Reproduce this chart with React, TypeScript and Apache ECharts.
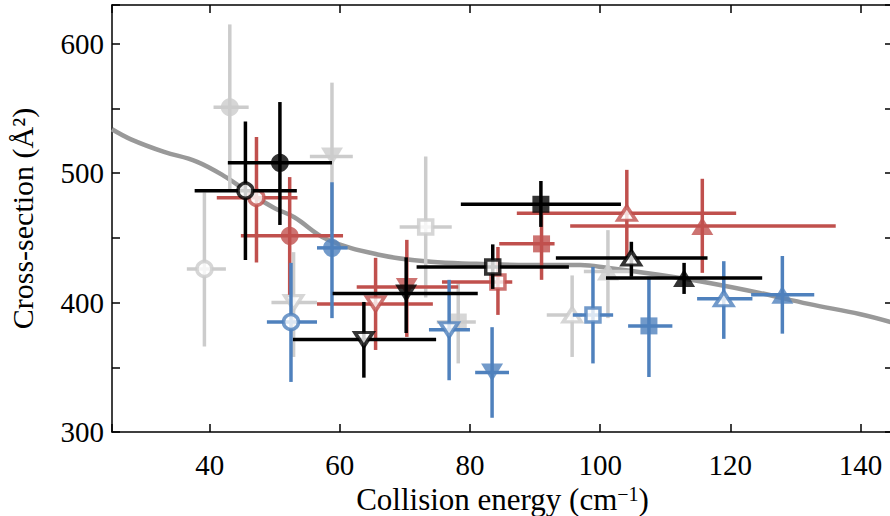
import React, { useEffect, useRef } from 'react';
import * as echarts from 'echarts';

// Marker order in every group:
// filled circle, open circle, filled ▼, open ▼, open ■, filled ■, open ▲, filled ▲
const markerShapes = ['circle', 'circle', 'down', 'down', 'rect', 'rect', 'up', 'up'];
const markerFilled = [true, false, true, false, false, true, false, true];

// [x, y, xLow, xHigh, yLow, yHigh]
const grayPoints = [
  [43.1, 551, 40.6, 46.0, 487, 615],
  [39.2, 426, 36.5, 42.5, 366, 485],
  [58.8, 513, 55.4, 62.0, 455, 570],
  [52.9, 400, 49.5, 56.5, 358, 439],
  [73.2, 458.5, 69.2, 77.2, 404, 513],
  [78.2, 385, 74.9, 80.9, 353, 415],
  [95.7, 390.5, 91.8, 97.2, 358, 421],
  [101.2, 424, 97.5, 105.0, 388, 456],
];

const redPoints = [
  [52.3, 451.6, 44.8, 60.5, 406, 497],
  [47.2, 481, 41.1, 53.5, 431, 528],
  [70.3, 412, 62.6, 78.2, 373.5, 448.5],
  [65.5, 399, 56.5, 74.3, 363.4, 434.6],
  [84.3, 416, 75.7, 86.5, 390.5, 443],
  [91.0, 445.4, 84.5, 93.0, 417.6, 469],
  [104.1, 469, 87.2, 120.9, 433, 502.6],
  [115.7, 459.3, 95.4, 136.2, 423, 495.7],
];

const bluePoints = [
  [58.8, 442.3, 56.5, 61.2, 388, 493],
  [52.5, 385, 48.8, 56.5, 338.7, 430.7],
  [83.4, 346, 80.8, 86.0, 311, 381],
  [76.8, 379, 73.7, 80.0, 340, 417.6],
  [98.9, 390.5, 95.8, 102.0, 353, 427.6],
  [107.5, 382, 104.3, 111.1, 342.5, 420],
  [119.0, 403, 114.9, 123.4, 372, 432],
  [128.0, 406, 123.2, 132.9, 376, 436],
];

const blackPoints = [
  [50.8, 508, 42.8, 58.8, 460, 555],
  [45.5, 486.5, 37.7, 53.4, 433, 540],
  [70.2, 407, 58.9, 81.2, 376.5, 435],
  [63.7, 371.5, 52.8, 74.8, 342, 400.5],
  [83.5, 427.6, 71.8, 95.2, 410.6, 445],
  [90.9, 476, 78.6, 103.2, 458.5, 494],
  [104.8, 434.5, 93.2, 116.5, 420, 447],
  [112.9, 419, 100.9, 124.9, 406.7, 430.7],
];

const curveX = [25, 28, 33, 38, 42.5, 46, 50, 53, 58, 66, 74, 81, 89, 97, 101, 109, 117, 124.5, 132, 140, 145];
const curveY = [534, 526, 516.5, 509, 497, 485, 473, 466, 449, 437, 431.5, 430, 429, 429, 427, 421.5, 415, 407.5, 399, 391, 384.5];

const xTickValues = [40, 60, 80, 100, 120, 140];
const yTickValues = [300, 400, 500, 600];

const GRAY = '#cccccc';
const RED = '#c0504d';
const BLUE = '#4f81bd';
const BLACK = '#000000';
const FONT = 'Liberation Serif';

function errorSeries(points: number[][], color: string, z: number) {
  return {
    type: 'custom',
    z,
    silent: true,
    data: points,
    encode: { x: [0, 2, 3], y: [1, 4, 5] },
    renderItem: (_params: any, api: any) => {
      const xl = api.coord([api.value(2), api.value(1)]);
      const xh = api.coord([api.value(3), api.value(1)]);
      const yl = api.coord([api.value(0), api.value(4)]);
      const yh = api.coord([api.value(0), api.value(5)]);
      const style = { stroke: color, lineWidth: 3.5, fill: null };
      return {
        type: 'group',
        children: [
          { type: 'line', shape: { x1: xl[0], y1: xl[1], x2: xh[0], y2: xh[1] }, style },
          { type: 'line', shape: { x1: yl[0], y1: yl[1], x2: yh[0], y2: yh[1] }, style },
        ],
      };
    },
  };
}

function markerSeries(points: number[][], color: string, z: number) {
  return {
    type: 'scatter',
    z,
    silent: true,
    data: points.map((p, i) => {
      const shape = markerShapes[i];
      const filled = markerFilled[i];
      let symbol = 'circle';
      let size: any = filled ? 18 : 15;
      let rotate = 0;
      if (shape === 'rect') {
        symbol = 'rect';
        size = filled ? 17 : 14;
      } else if (shape === 'up' || shape === 'down') {
        symbol = 'triangle';
        size = filled ? [22, 18] : [18, 14];
        rotate = shape === 'down' ? 180 : 0;
      }
      return {
        value: [p[0], p[1]],
        symbol,
        symbolSize: size,
        symbolRotate: rotate,
        itemStyle: filled
          ? { color, borderWidth: 0 }
          : { color: '#ffffff', borderColor: color, borderWidth: 3.5 },
      };
    }),
  };
}

export default function App() {
  const ref = useRef<HTMLDivElement>(null);

  useEffect(() => {
    document.body.style.margin = '0';
    if (!ref.current) return;
    const chart = echarts.init(ref.current, null, { renderer: 'svg' });

    const axisLine = { show: true, lineStyle: { color: '#000', width: 1.5 } };
    const axisTick = { show: true, inside: true, length: 8, lineStyle: { color: '#000', width: 1.5 } };

    chart.setOption({
      animation: false,
      backgroundColor: '#ffffff',
      grid: { left: 112, top: 5, width: 781, height: 427, outerBoundsMode: 'none', containLabel: false },
      xAxis: [
        {
          type: 'value',
          position: 'bottom',
          min: 25,
          max: 145,
          minInterval: 20,
          maxInterval: 20,
          axisLine,
          axisTick,
          splitLine: { show: false },
          axisLabel: {
            margin: 18,
            fontFamily: FONT,
            fontSize: 29,
            color: '#000',
            formatter: (v: number) => (xTickValues.includes(v) ? String(v) : ''),
          },
          name: 'Collision energy (cm{sup|−1})',
          nameLocation: 'middle',
          nameGap: 37,
          nameTextStyle: {
            fontFamily: FONT,
            fontSize: 31,
            color: '#000',
            rich: { sup: { fontFamily: FONT, fontSize: 20, verticalAlign: 'top', padding: [0, 0, 10, 0] } },
          },
        },
        {
          type: 'value',
          position: 'top',
          min: 25,
          max: 145,
          minInterval: 20,
          maxInterval: 20,
          axisLine,
          axisTick,
          splitLine: { show: false },
          axisLabel: { show: false },
        },
      ],
      yAxis: [
        {
          type: 'value',
          position: 'left',
          min: 300,
          max: 630,
          minInterval: 50,
          maxInterval: 50,
          axisLine,
          axisTick,
          splitLine: { show: false },
          axisLabel: {
            margin: 8,
            fontFamily: FONT,
            fontSize: 29,
            color: '#000',
            formatter: (v: number) => (yTickValues.includes(v) ? String(v) : ''),
          },
          name: 'Cross-section (Å²)',
          nameLocation: 'middle',
          nameGap: 75,
          nameTextStyle: { fontFamily: FONT, fontSize: 30, color: '#000' },
        },
        {
          type: 'value',
          position: 'right',
          min: 300,
          max: 630,
          minInterval: 50,
          maxInterval: 50,
          axisLine: { show: false },
          axisTick,
          splitLine: { show: false },
          axisLabel: { show: false },
        },
      ],
      series: [
        {
          type: 'line',
          z: 1,
          silent: true,
          data: curveX.map((x, i) => [x, curveY[i]]),
          smooth: 0.4,
          showSymbol: false,
          symbol: 'none',
          lineStyle: { color: '#999999', width: 4.5 },
        },
        errorSeries(grayPoints, GRAY, 2),
        markerSeries(grayPoints, GRAY, 3),
        errorSeries(redPoints, RED, 4),
        markerSeries(redPoints, RED, 5),
        errorSeries(bluePoints, BLUE, 6),
        markerSeries(bluePoints, BLUE, 7),
        errorSeries(blackPoints, BLACK, 8),
        markerSeries(blackPoints, BLACK, 9),
      ],
    });

    return () => chart.dispose();
  }, []);

  return <div ref={ref} style={{ width: 890, height: 516 }} />;
}
